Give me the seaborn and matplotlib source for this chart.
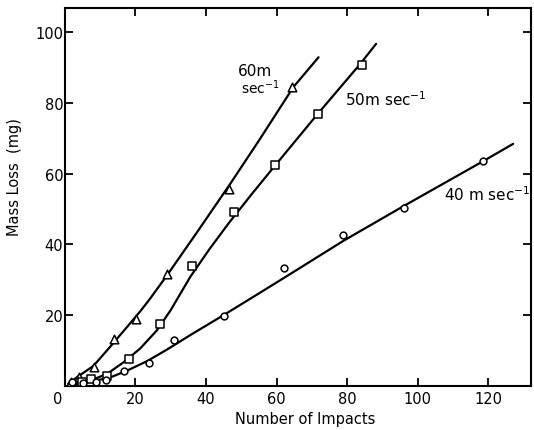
import matplotlib
matplotlib.use("Agg")
import matplotlib.pyplot as plt
import matplotlib.transforms as mtransforms
import seaborn as sns

# ---- measured points ----
x60 = [1.9, 4.1, 8.2, 14.0, 20.3, 29.0, 46.6, 64.5]
y60 = [1.1, 2.5, 5.2, 13.2, 18.9, 31.6, 55.7, 84.4]

x50 = [4.8, 7.5, 11.9, 18.2, 27.1, 36.0, 47.9, 59.7, 71.7, 84.1]
y50 = [0.9, 1.9, 2.6, 7.4, 17.5, 33.8, 49.1, 62.5, 76.8, 90.6]

x40 = [2.1, 5.3, 8.9, 11.8, 16.9, 23.9, 31.1, 45.1, 62.0, 78.9, 96.2, 118.6]
y40 = [0.9, 0.8, 0.9, 1.5, 4.2, 6.4, 13.0, 19.8, 33.2, 42.5, 50.3, 63.6]

# ---- fitted curves ----
cx60 = [1.0, 3.4, 8.2, 12.9, 17.6, 21.4, 24.2, 29.0, 37.5, 46.9, 55.0, 64.8, 71.9]
cy60 = [0.5, 2.3, 5.6, 11.0, 16.5, 21.0, 24.6, 31.2, 43.4, 57.1, 69.3, 84.5, 92.9]

cx50 = [3.0, 7.2, 12.0, 16.7, 21.4, 26.1, 30.0, 35.6, 41.0, 46.5, 53.0, 59.7, 71.6, 83.7, 88.2]
cy50 = [0.4, 1.4, 3.3, 6.6, 10.5, 15.6, 21.3, 30.8, 38.6, 46.0, 54.2, 62.4, 76.8, 91.0, 96.7]

cx40 = [3.0, 6.3, 12.9, 17.6, 23.3, 29.0, 35.6, 45.1, 52.6, 62.0, 79.0, 96.0, 118.7, 127.0]
cy40 = [0.4, 0.9, 2.3, 4.2, 6.9, 10.2, 14.3, 20.0, 24.6, 30.4, 41.0, 50.8, 63.6, 68.4]

x_ticks = [0, 20, 40, 60, 80, 100, 120]
y_ticks = [20, 40, 60, 80, 100]

labels = ["60m", "sec$^{-1}$", "50m sec$^{-1}$", "40 m sec$^{-1}$"]

sns.set_style("ticks")
plt.rcParams["font.family"] = ["DejaVu Sans"]
plt.rcParams["xtick.direction"] = "in"
plt.rcParams["ytick.direction"] = "in"
plt.rcParams["text.color"] = "black"
plt.rcParams["axes.labelcolor"] = "black"
plt.rcParams["xtick.color"] = "black"
plt.rcParams["ytick.color"] = "black"

fig = plt.figure(figsize=(5.34, 4.31), dpi=100)
ax = fig.add_axes([0.121, 0.103, 0.873, 0.875])

lw = 1.6
for cx, cy in [(cx60, cy60), (cx50, cy50), (cx40, cy40)]:
    sns.lineplot(x=cx, y=cy, ax=ax, color="black", linewidth=lw, sort=False,
                 estimator=None)

sns.scatterplot(x=x60, y=y60, ax=ax, marker="^", s=38, facecolor="white",
                edgecolor="black", linewidth=1.1, zorder=3)
sns.scatterplot(x=x50, y=y50, ax=ax, marker="s", s=34, facecolor="white",
                edgecolor="black", linewidth=1.1, zorder=3)
sns.scatterplot(x=x40, y=y40, ax=ax, marker="o", s=24, facecolor="white",
                edgecolor="black", linewidth=1.1, zorder=3)

ax.set_xlim(0, 132)
ax.set_ylim(0, 106.7)
ax.set_xticks(x_ticks)
ax.set_yticks(y_ticks)
ax.tick_params(axis="both", which="both", top=True, right=True, length=6,
               width=1.3, labelsize=10.5, colors="black")
ax.tick_params(axis="x", pad=4)
ax.tick_params(axis="y", pad=1)
for sp in ax.spines.values():
    sp.set_linewidth(1.5)
    sp.set_color("black")

# shift "0" label a bit to the left as in the reference
lab0 = ax.get_xticklabels()[0]
lab0.set_transform(lab0.get_transform() +
                   mtransforms.ScaledTranslation(-7 / 100, 0, fig.dpi_scale_trans))

ax.set_xlabel("Number of Impacts", fontsize=10.5)
ax.set_ylabel("Mass Loss  (mg)", fontsize=10.5)
ax.xaxis.set_label_coords(0.516, -0.068)
ax.yaxis.set_label_coords(-0.091, 0.556)

ax.text(49.2, 89.1, labels[0], fontsize=11, ha="left", va="center")
ax.text(50.0, 84.5, labels[1], fontsize=10, ha="left", va="center")
ax.text(79.5, 81.1, labels[2], fontsize=11, ha="left", va="center")
ax.text(107.3, 54.2, labels[3], fontsize=11, ha="left", va="center")

fig.savefig("out.png", dpi=100, facecolor="white")
